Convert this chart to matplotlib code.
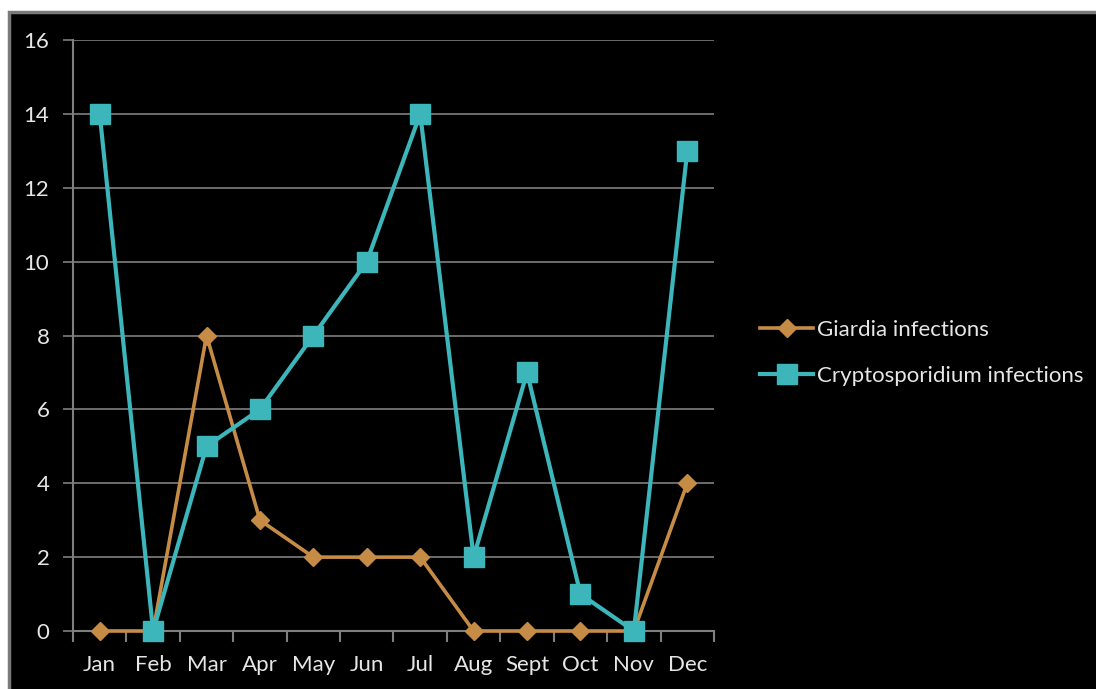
import numpy as np
import matplotlib
matplotlib.use("Agg")
import matplotlib.pyplot as plt
from matplotlib.patches import Rectangle

months = ["Jan", "Feb", "Mar", "Apr", "May", "Jun", "Jul", "Aug", "Sept", "Oct", "Nov", "Dec"]
giardia = [0, 0, 8, 3, 2, 2, 2, 0, 0, 0, 0, 4]
crypto = [14, 0, 5, 6, 8, 10, 14, 2, 7, 1, 0, 13]

plt.rcParams['font.family'] = ['Lato', 'DejaVu Sans']

W, H = 1096, 689
fig = plt.figure(figsize=(W / 100, H / 100), dpi=100, facecolor="white")

# black panel with a thin grey frame, white strip at top and left
fig.patches.append(Rectangle((8.5 / W, -0.01), 1, (H - 11.5) / H + 0.01, transform=fig.transFigure,
                             facecolor="black", edgecolor="#7a7a7a", linewidth=2.5, zorder=-10))

ax = fig.add_axes([73 / W, 1 - 631 / H, (714 - 73) / W, (631 - 40) / H])
ax.set_facecolor("black")

x = np.arange(len(months))
grid_c = "#7f7f7f"
txt_c = "#e6e6e6"

ax.plot(x, giardia, color="#c68c46", lw=2.6, marker="D", ms=9.5,
        label="Giardia infections", zorder=3, clip_on=False)
ax.plot(x, crypto, color="#3cb6ba", lw=3.0, marker="s", ms=14.5,
        label="Cryptosporidium infections", zorder=4, clip_on=False)

ax.set_xlim(-0.5, 11.5)
ax.set_ylim(0, 16)
ax.set_yticks(np.arange(0, 17, 2))
ax.set_xticks(x)
ax.set_xticklabels(months)
ax.set_xticks(np.arange(-0.5, 12, 1), minor=True)

ax.grid(axis="y", color=grid_c, lw=1.2, zorder=1)
for s in ["top", "right"]:
    ax.spines[s].set_visible(False)
for s in ["left", "bottom"]:
    ax.spines[s].set_color(grid_c)
    ax.spines[s].set_linewidth(1.5)

ax.tick_params(axis="y", colors=txt_c, labelsize=16, length=7, width=1.2,
               color=grid_c, pad=10)
ax.tick_params(axis="x", which="major", colors=txt_c, labelsize=16, length=0, pad=17)
ax.tick_params(axis="x", which="minor", length=8, width=1.5, color=grid_c)

leg = fig.legend(loc="center left", bbox_to_anchor=(740 / W, 1 - 353 / H),
                 frameon=False, fontsize=16, handlelength=2.4, handletextpad=0.15,
                 labelspacing=1.15, labelcolor=txt_c)

fig.savefig("out.png", dpi=100, facecolor=fig.get_facecolor())
